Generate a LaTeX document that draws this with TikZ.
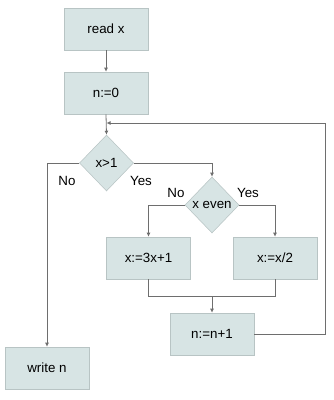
\documentclass[tikz,border=0pt]{standalone}
\usepackage{fontspec}
\setmainfont{Liberation Sans}
\usetikzlibrary{arrows.meta, shapes.geometric}

\definecolor{boxfill}{HTML}{D7E4E4}
\definecolor{boxline}{HTML}{B8C4C4}
\definecolor{wire}{HTML}{6E6E6E}

\begin{document}
\begin{tikzpicture}[x=0.75pt, y=-0.75pt,
            stepbox/.style={rectangle, fill=boxfill, draw=boxline, line width=0.4pt,
                      minimum width=63pt, minimum height=31.5pt, inner sep=0pt,
                      font=\fontsize{10}{12}\selectfont},
            test/.style={diamond, fill=boxfill, draw=boxline, line width=0.4pt,
                      minimum width=40.5pt, minimum height=42pt, inner sep=0pt,
                      font=\fontsize{10}{12}\selectfont},
            lbl/.style={font=\fontsize{10}{12}\selectfont, inner sep=0pt},
            arr/.style={-{Latex[length=3pt, width=3pt]}, line width=0.6pt, wire},
            wr/.style={line width=0.6pt, wire}]
          \useasboundingbox (0,0) rectangle (334,400);
          \node[stepbox] (readx) at (106,29) {read x};
          \node[stepbox] (zero) at (106,93) {n:=0};
          \node[test] (gtone) at (106.5,163) {x>1};
          \node[test] (even) at (212,205) {x even};
          \node[stepbox] (triple) at (148.5,258) {x:=3x+1};
          \node[stepbox] (half) at (275,258) {x:=x/2};
          \node[stepbox] (incr) at (212,334) {n:=n+1};
          \node[stepbox] (writen) at (47,368) {write n};
          % branch labels
          \node[lbl] (gtno) at (67,181) {No};
          \node[lbl] (gtyes) at (141,181) {Yes};
          \node[lbl] (evno) at (176,193) {No};
          \node[lbl] (evyes) at (248,193) {Yes};
          % helper points
          \coordinate (join) at (212,296);
          \coordinate (loop) at (325,123);
          \coordinate (merge) at (106.5,123);
          \draw[arr] (readx) -- (zero);
          \draw[arr] (zero.south) -- (gtone.north);
          \draw[arr] (gtone.west) -| (writen.north);
          \draw[arr] (gtone.east) -| (even.north);
          \draw[arr] (even.west) -| (triple.north);
          \draw[arr] (even.east) -| (half.north);
          \draw[wr] (triple.south) |- (join);
          \draw[wr] (half.south) |- (join);
          \draw[arr] (join) -- (incr.north);
          \draw[arr] (incr.east) -| (loop) -- (merge);
        \end{tikzpicture}
\end{document}
